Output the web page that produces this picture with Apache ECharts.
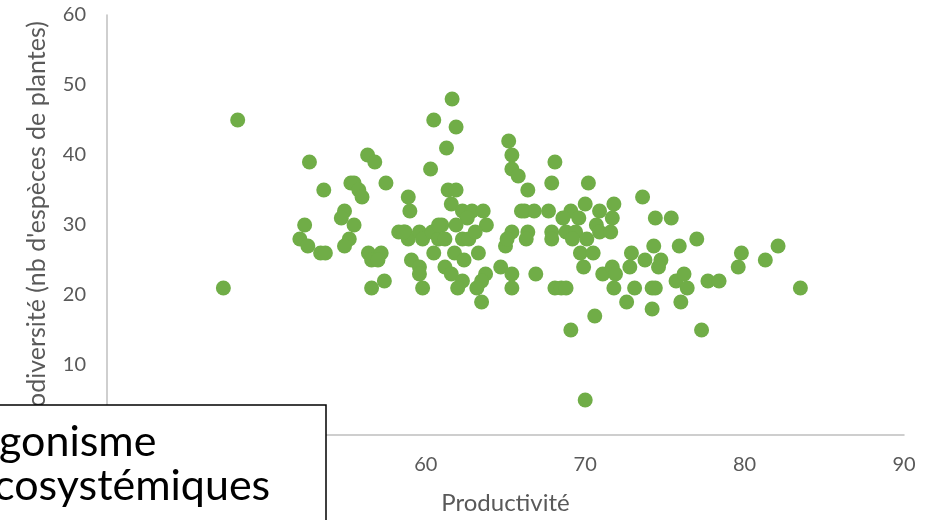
<!DOCTYPE html>
<html>
<head>
<meta charset="utf-8">
<script src="https://cdn.jsdelivr.net/npm/echarts@6/dist/echarts.min.js"></script>
<style>html,body{margin:0;padding:0;background:#fff;}#c{width:925px;height:520px;}</style>
</head>
<body>
<div id="c"></div>
<script>
const productivite = [47.3,48.2,52.7,53.6,52.4,52.1,52.6,53.4,53.7,56.35,56.8,55.3,55.5,55.8,56.0,57.5,60.3,60.5,58.9,59.0,54.9,54.7,55.5,55.2,54.9,56.4,57.2,56.6,57.0,56.6,57.4,58.3,58.7,58.9,59.6,59.8,60.4,60.5,59.1,59.6,59.6,59.8,61.65,61.9,61.3,65.2,65.4,65.4,65.8,66.4,68.1,67.9,70.2,61.4,61.9,61.6,62.3,62.9,63.6,62.6,63.8,66.2,66.8,67.7,69.1,70.0,70.9,71.8,71.7,68.6,69.6,61.0,61.9,60.8,61.2,62.3,62.7,63.1,65.4,66.4,65.0,65.1,66.3,67.9,67.9,68.8,69.4,69.2,70.1,70.7,70.9,71.6,69.7,70.5,69.9,72.9,72.8,61.8,62.4,63.3,61.2,61.6,62.3,62.0,63.75,63.5,63.2,63.5,64.7,65.4,65.4,66.9,68.1,68.5,68.8,71.1,71.7,71.8,72.6,73.1,70.6,73.6,74.4,75.4,74.3,75.9,77.0,73.75,74.75,74.6,71.9,74.2,74.4,74.2,75.7,76.2,76.4,76.0,77.7,78.4,77.3,79.8,79.6,81.3,82.1,83.5,69.1,70.0,58.6,60.8,66.0];
const biodiversite = [21,45,39,35,30,28,27,26,26,40,39,36,36,35,34,36,38,45,34,32,32,31,30,28,27,26,26,25,25,21,22,29,29,28,29,28,29,26,25,24,23,21,48,44,41,42,40,38,37,35,39,36,36,35,35,33,32,32,32,31,30,32,32,32,32,33,32,33,31,31,31,30,30,28,28,28,28,29,29,29,27,28,28,29,28,29,29,28,28,30,29,29,26,26,24,26,24,26,25,26,24,23,22,21,23,22,21,19,24,23,21,23,21,21,21,23,24,21,19,21,17,34,31,31,27,27,28,25,25,24,23,21,21,18,22,23,21,19,22,22,15,26,24,25,27,21,15,5,29,30,32];
const xTicks = [40,50,60,70,80,90];
const yTicks = [0,10,20,30,40,50,60];
const xTitle = 'Productivité';
const yTitle = "Biodiversité (nb d'espèces de plantes)";
const boxLines = ['gonisme', 'cosystémiques'];

const pts = productivite.map((x,i)=>[x, biodiversite[i]]);
const chart = echarts.init(document.getElementById('c'), null, {renderer:'canvas'});
const font = 'Lato, "Open Sans", sans-serif';
chart.setOption({
  animation:false,
  grid:{left:107, right:21, top:15, bottom:85},
  xAxis:{
    type:'value', min:xTicks[0], max:xTicks[xTicks.length-1], interval:10,
    axisLine:{show:true, lineStyle:{color:'#bfbfbf', width:1.5}},
    axisTick:{show:false}, splitLine:{show:false},
    axisLabel:{color:'#595959', fontSize:20, fontFamily:font, margin:20},
    name:xTitle, nameLocation:'middle', nameGap:56,
    nameTextStyle:{color:'#595959', fontSize:24, fontFamily:font}
  },
  yAxis:{
    type:'value', min:yTicks[0], max:yTicks[yTicks.length-1], interval:10,
    axisLine:{show:true, lineStyle:{color:'#bfbfbf', width:1.5}},
    axisTick:{show:false}, splitLine:{show:false},
    axisLabel:{color:'#595959', fontSize:20, fontFamily:font, margin:21},
    name:yTitle, nameLocation:'middle', nameGap:58,
    nameTextStyle:{color:'#595959', fontSize:25, fontFamily:font}
  },
  series:[{
    type:'scatter', data:pts, symbolSize:15,
    itemStyle:{color:'#70ad47', opacity:1}
  }],
  graphic:[
    {type:'rect', z:100, shape:{x:-5, y:405, width:331, height:130},
     style:{fill:'#fff', stroke:'#000', lineWidth:1.5}},
    {type:'text', z:101, x:-1, y:421, style:{text:boxLines[0], font:'43px Lato, "Open Sans", sans-serif', fill:'#000'}},
    {type:'text', z:101, x:-6, y:465, style:{text:boxLines[1], font:'43px Lato, "Open Sans", sans-serif', fill:'#000'}}
  ]
});
</script>
</body>
</html>
